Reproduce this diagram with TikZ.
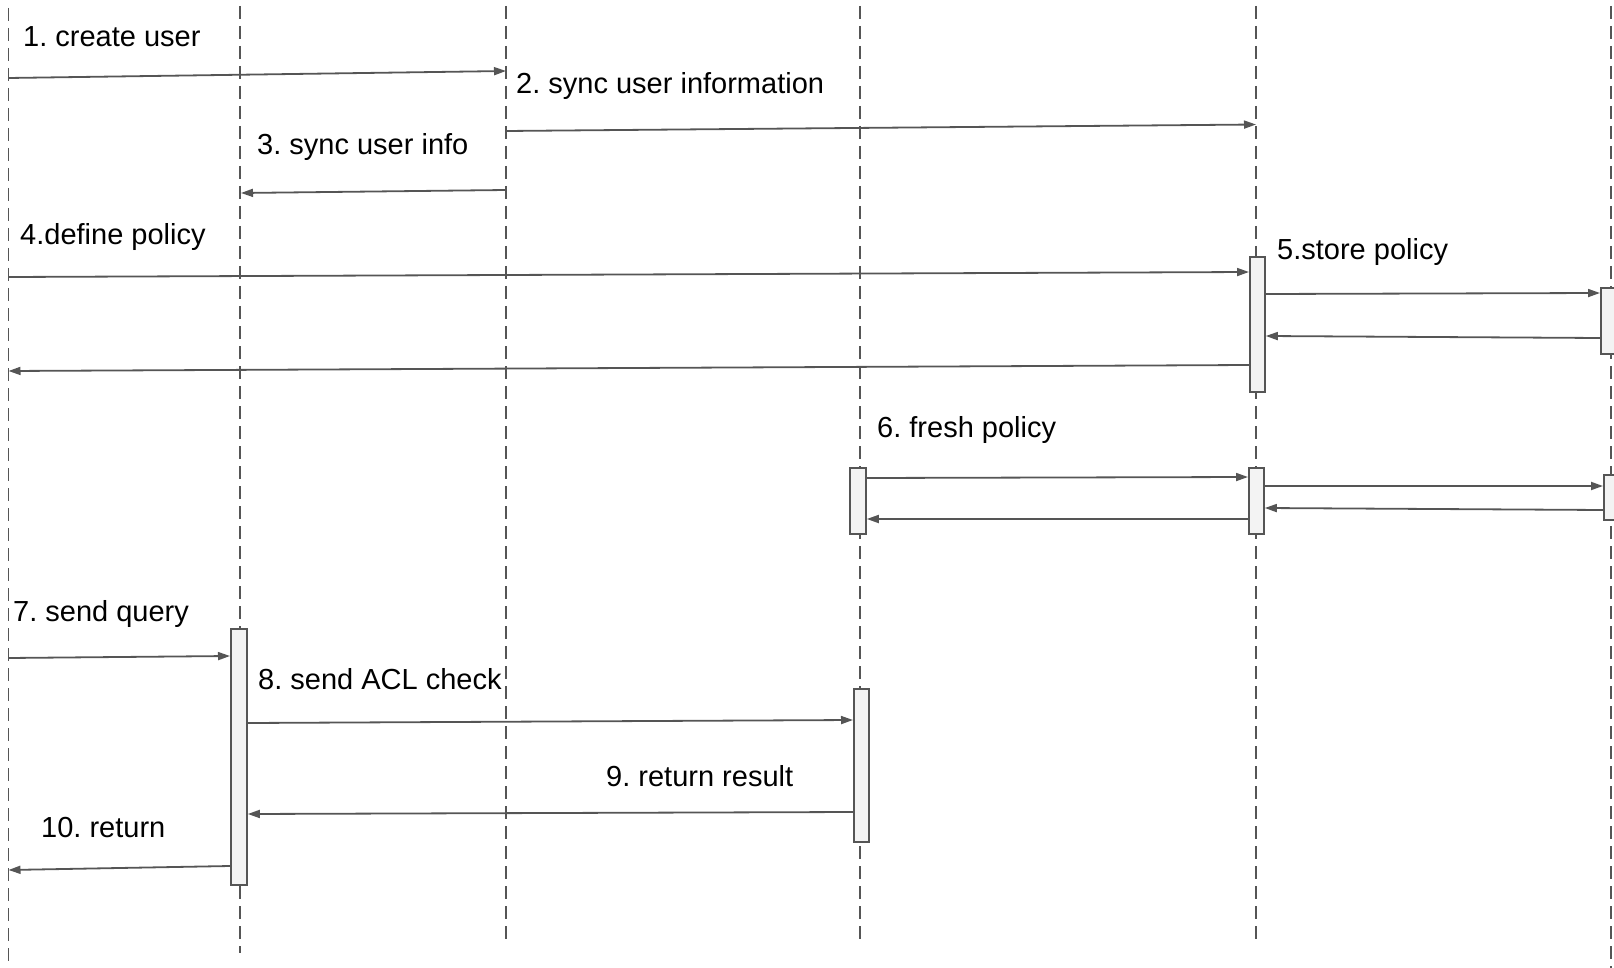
\documentclass[tikz,border=0pt]{standalone}
\usepackage{fontspec}
\setmainfont{Liberation Sans}
\usetikzlibrary{arrows.meta}
\definecolor{ln}{HTML}{555555}
\definecolor{bx}{HTML}{F3F3F3}
\tikzset{
  lifeline/.style={draw=ln, line width=1.4pt, dash pattern=on 13pt off 7pt},
  msg/.style={draw=ln, line width=1.8pt, -{Triangle[length=12pt,width=8pt]}},
  actbox/.style={draw=ln, fill=bx, line width=1.8pt, rectangle, inner sep=0pt, anchor=north west},
  lbl/.style={anchor=base west, inner sep=0pt, font=\fontsize{29}{34}\selectfont}
}
\begin{document}
\frenchspacing
\begin{tikzpicture}[x=1pt,y=-1pt]
\useasboundingbox (0,0) rectangle (1614,968);
% lifelines
\coordinate (t1) at (8.5,8);   \coordinate (u1) at (8.5,968);
\coordinate (t2) at (240,6);   \coordinate (u2) at (240,953);
\coordinate (t3) at (506,6);   \coordinate (u3) at (506,942);
\coordinate (t4) at (860,6);   \coordinate (u4) at (860,945);
\coordinate (t5) at (1256,6);  \coordinate (u5) at (1256,942);
\coordinate (t6) at (1611,6);  \coordinate (u6) at (1611,968);
\foreach \i in {1,...,6} \draw[lifeline] (t\i) -- (u\i);

% activation boxes
\node[actbox, minimum width=15, minimum height=135] (b5a) at (1249,256) {};
\node[actbox, minimum width=16, minimum height=66] (b6a) at (1600,287) {};
\node[actbox, minimum width=16, minimum height=66] (b4a) at (849,467) {};
\node[actbox, minimum width=15, minimum height=66] (b5b) at (1248,467) {};
\node[actbox, minimum width=16, minimum height=45] (b6b) at (1603,474) {};
\node[actbox, minimum width=16, minimum height=256] (b2) at (230,628) {};
\node[actbox, minimum width=15, minimum height=153] (b4b) at (853,688) {};

% message endpoints
\coordinate (m1s) at (8.5,78);   \coordinate (m1e) at (506,71);
\coordinate (m2s) at (506,131);  \coordinate (m2e) at (1256,124.5);
\coordinate (m3s) at (506,190);  \coordinate (m3e) at (241,193);
\coordinate (m4s) at (8.5,277);  \coordinate (m4e) at (b5a.west |- 0,272);
\coordinate (m4rs) at (b5a.west |- 0,365); \coordinate (m4re) at (8.5,371);
\coordinate (m5s) at (b5a.east |- 0,294); \coordinate (m5e) at (b6a.west |- 0,293);
\coordinate (m5rs) at (b6a.west |- 0,338); \coordinate (m5re) at (b5a.east |- 0,336);
\coordinate (m6s) at (b4a.east |- 0,478); \coordinate (m6e) at (b5b.west |- 0,477);
\coordinate (m6rs) at (b5b.west |- 0,519); \coordinate (m6re) at (b4a.east |- 0,519);
\coordinate (m6bs) at (b5b.east |- 0,486); \coordinate (m6be) at (b6b.west |- 0,486);
\coordinate (m6brs) at (b6b.west |- 0,510); \coordinate (m6bre) at (b5b.east |- 0,508);
\coordinate (m7s) at (8.5,658);  \coordinate (m7e) at (b2.west |- 0,656);
\coordinate (m8s) at (b2.east |- 0,723); \coordinate (m8e) at (b4b.west |- 0,720);
\coordinate (m9s) at (b4b.west |- 0,812); \coordinate (m9e) at (b2.east |- 0,814);
\coordinate (m10s) at (b2.west |- 0,866); \coordinate (m10e) at (8.5,870);

\foreach \a/\b in {m1s/m1e, m2s/m2e, m3s/m3e, m4s/m4e, m4rs/m4re, m5s/m5e, m5rs/m5re,
  m6s/m6e, m6rs/m6re, m6bs/m6be, m6brs/m6bre, m7s/m7e, m8s/m8e, m9s/m9e, m10s/m10e}
  \draw[msg] (\a) -- (\b);

% labels
\node[lbl] (l1) at (23,47) {1. create user};
\node[lbl] (l2) at (516,94) {2. sync user information};
\node[lbl] (l3) at (257,155) {3. sync user info};
\node[lbl] (l4) at (20,245) {4.define policy};
\node[lbl] (l5) at (1277,260) {5.store policy};
\node[lbl] (l6) at (877,437) {6. fresh policy};
\node[lbl] (l7) at (13,621) {7. send query};
\node[lbl] (l8) at (258,689) {8. send ACL check};
\node[lbl] (l9) at (606,786) {9. return result};
\node[lbl] (l10) at (41,837) {10. return};
\end{tikzpicture}
\end{document}
